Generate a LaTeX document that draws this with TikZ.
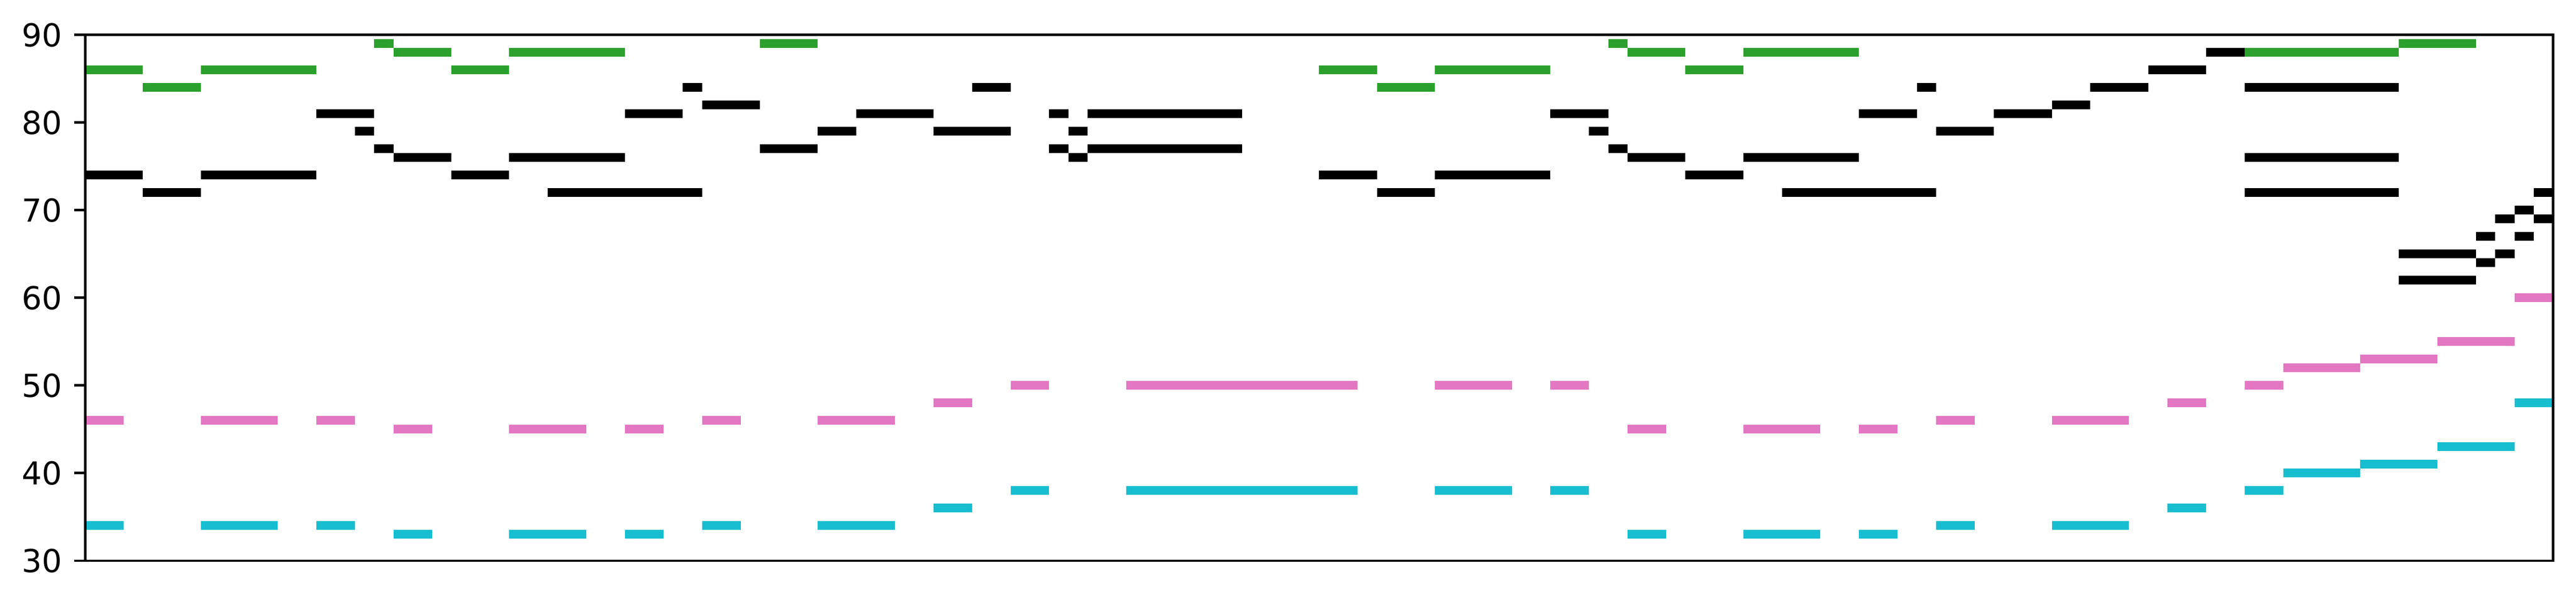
\documentclass[tikz,border=0pt]{standalone}
\usepackage{fontspec}
\setmainfont{DejaVu Sans}
\definecolor{cgreen}{HTML}{2CA02C}
\definecolor{cpink}{HTML}{E377C2}
\definecolor{ccyan}{HTML}{17BECF}
\begin{document}
\begin{tikzpicture}[x=6.1024pt,y=2.772pt,
  axisline/.style={line width=0.8pt,black},
  ticklabel/.style={anchor=east,inner sep=0pt,font=\fontsize{10}{12}\selectfont}]
\useasboundingbox (-26.916pt,-13.044pt) rectangle ++(815.28pt,190.44pt);
% green voice
\foreach \a/\b/\p in {0/3/86,3/6/84,6/12/86,15/16/89,16/19/88,19/22/86,22/28/88,35/38/89,
  64/67/86,67/70/84,70/76/86,79/80/89,80/83/88,83/86/86,86/92/88,112/120/88,120/124/89}
  \fill[cgreen] (\a,\p-30.5) rectangle (\b,\p-29.5);
% black voice
\foreach \a/\b/\p in {0/3/74,3/6/72,6/12/74,12/15/81,14/15/79,15/16/77,16/19/76,19/22/74,
  22/28/76,24/32/72,28/31/81,31/32/84,32/35/82,35/38/77,38/40/79,40/44/81,44/48/79,46/48/84,
  50/51/81,50/51/77,51/52/79,51/52/76,52/60/81,52/60/77,64/67/74,67/70/72,70/76/74,76/79/81,
  78/79/79,79/80/77,80/83/76,83/86/74,86/92/76,88/96/72,92/95/81,95/96/84,96/99/79,99/102/81,
  102/104/82,104/107/84,107/110/86,110/112/88,112/120/84,112/120/76,112/120/72,120/124/65,
  120/124/62,124/125/67,124/125/64,125/126/69,125/126/65,126/127/70,126/127/67,127/128/72,
  127/128/69}
  \fill[black] (\a,\p-30.5) rectangle (\b,\p-29.5);
% pink voice
\foreach \a/\b/\p in {0/2/46,6/10/46,12/14/46,16/18/45,22/26/45,28/30/45,32/34/46,38/42/46,
  44/46/48,48/50/50,54/66/50,70/74/50,76/78/50,80/82/45,86/90/45,92/94/45,96/98/46,102/106/46,
  108/110/48,112/114/50,114/118/52,118/122/53,122/126/55,126/128/60}
  \fill[cpink] (\a,\p-30.5) rectangle (\b,\p-29.5);
% cyan voice
\foreach \a/\b/\p in {0/2/34,6/10/34,12/14/34,16/18/33,22/26/33,28/30/33,32/34/34,38/42/34,
  44/46/36,48/50/38,54/66/38,70/74/38,76/78/38,80/82/33,86/90/33,92/94/33,96/98/34,102/106/34,
  108/110/36,112/114/38,114/118/40,118/122/41,122/126/43,126/128/48}
  \fill[ccyan] (\a,\p-30.5) rectangle (\b,\p-29.5);
% axes frame
\draw[axisline] (0,0) rectangle (128,60);
% y ticks and labels
\foreach \v in {30,40,...,90} {
  \draw[axisline] (0,\v-30) -- ++(-3.5pt,0);
  \path (0,\v-30) ++(-7pt,0) node[ticklabel] (ytl\v) {\v};
}
\end{tikzpicture}
\end{document}
